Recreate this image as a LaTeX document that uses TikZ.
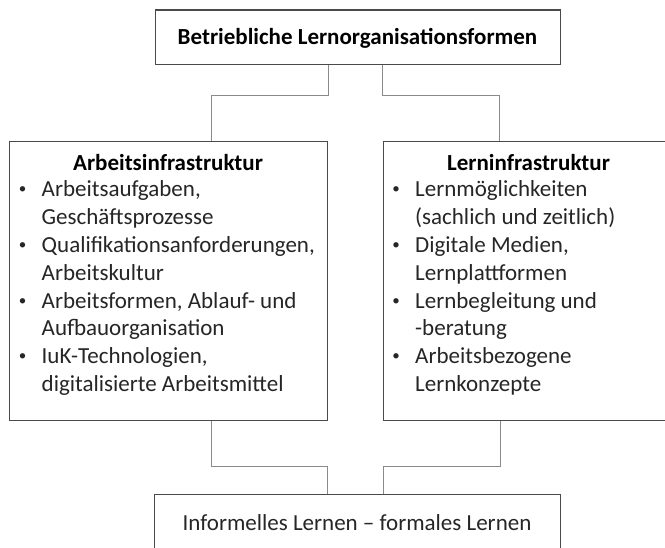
\documentclass[tikz,border=0pt]{standalone}
\usepackage{fontspec}
\setmainfont{Carlito}
\definecolor{boxgray}{HTML}{4A4A4A}
\definecolor{linkgray}{HTML}{8A8A8A}
\begin{document}
\begin{tikzpicture}[x=1pt,y=-1pt,
  box/.style={draw=boxgray, line width=1.4pt, fill=white, inner sep=0pt, anchor=north west},
  link/.style={draw=linkgray, line width=0.9pt},
  txt/.style={font=\fontsize{23}{27.8}\selectfont, inner sep=0pt, text=black!85},
  head/.style={txt, font=\fontsize{23}{27.8}\selectfont\bfseries, text=black, anchor=base},
  line/.style={txt, anchor=base west},
  dot/.style={txt, font=\fontsize{15}{15}\selectfont, anchor=base}]
\useasboundingbox (0,0) rectangle (665,548);

% boxes
\node[box, minimum width=405pt, minimum height=54.5pt] (top) at (155,9.5) {};
\node[box, minimum width=318pt, minimum height=279pt] (left) at (9,141) {};
\node[box, minimum width=290pt, minimum height=279pt] (right) at (383,141) {};
\node[box, minimum width=406pt, minimum height=80pt] (bottom) at (154,494) {};

% elbow points of the connectors
\coordinate (t1) at (328,95);
\coordinate (t2) at (211,95);
\coordinate (t3) at (382,95);
\coordinate (t4) at (499,95);
\coordinate (b1) at (211,466);
\coordinate (b2) at (327,466);
\coordinate (b3) at (500,466);
\coordinate (b4) at (383,466);

\draw[link] (top.south -| t1) -- (t1) -- (t2) -- (left.north -| t2);
\draw[link] (top.south -| t3) -- (t3) -- (t4) -- (right.north -| t4);
\draw[link] (left.south -| b1) -- (b1) -- (b2) -- (bottom.north -| b2);
\draw[link] (right.south -| b3) -- (b3) -- (b4) -- (bottom.north -| b4);

% titles
\node[head] (toptitle) at (357.5,45) {Betriebliche Lernorganisationsformen};
\node[txt, anchor=base] (bottomtitle) at (357,530) {Informelles Lernen – formales Lernen};

% left box
\node[head] (lhead) at (168,170.7) {Arbeitsinfrastruktur};
\foreach \t [count=\i from 0] in {{Arbeitsaufgaben,},{Geschäftsprozesse},
    {Qualifikationsanforderungen,},{Arbeitskultur},
    {Arbeitsformen, Ablauf- und},{Aufbauorganisation},
    {IuK-Technologien,},{digitalisierte Arbeitsmittel}}
  \node[line] (l\i) at (41.5,{197+27.8*\i}) {\t};
\foreach \i in {0,2,4,6}
  \node[dot] (lb\i) at (22.5,{194+27.8*\i}) {\textbullet};

% right box
\node[head] (rhead) at (528.5,170.7) {Lerninfrastruktur};
\foreach \t [count=\i from 0] in {{Lernmöglichkeiten},{(sachlich und zeitlich)},
    {Digitale Medien,},{Lernplattformen},
    {Lernbegleitung und},{-beratung},
    {Arbeitsbezogene},{Lernkonzepte}}
  \node[line] (r\i) at (415,{197+27.8*\i}) {\t};
\foreach \i in {0,2,4,6}
  \node[dot] (rb\i) at (396,{194+27.8*\i}) {\textbullet};
\end{tikzpicture}
\end{document}
